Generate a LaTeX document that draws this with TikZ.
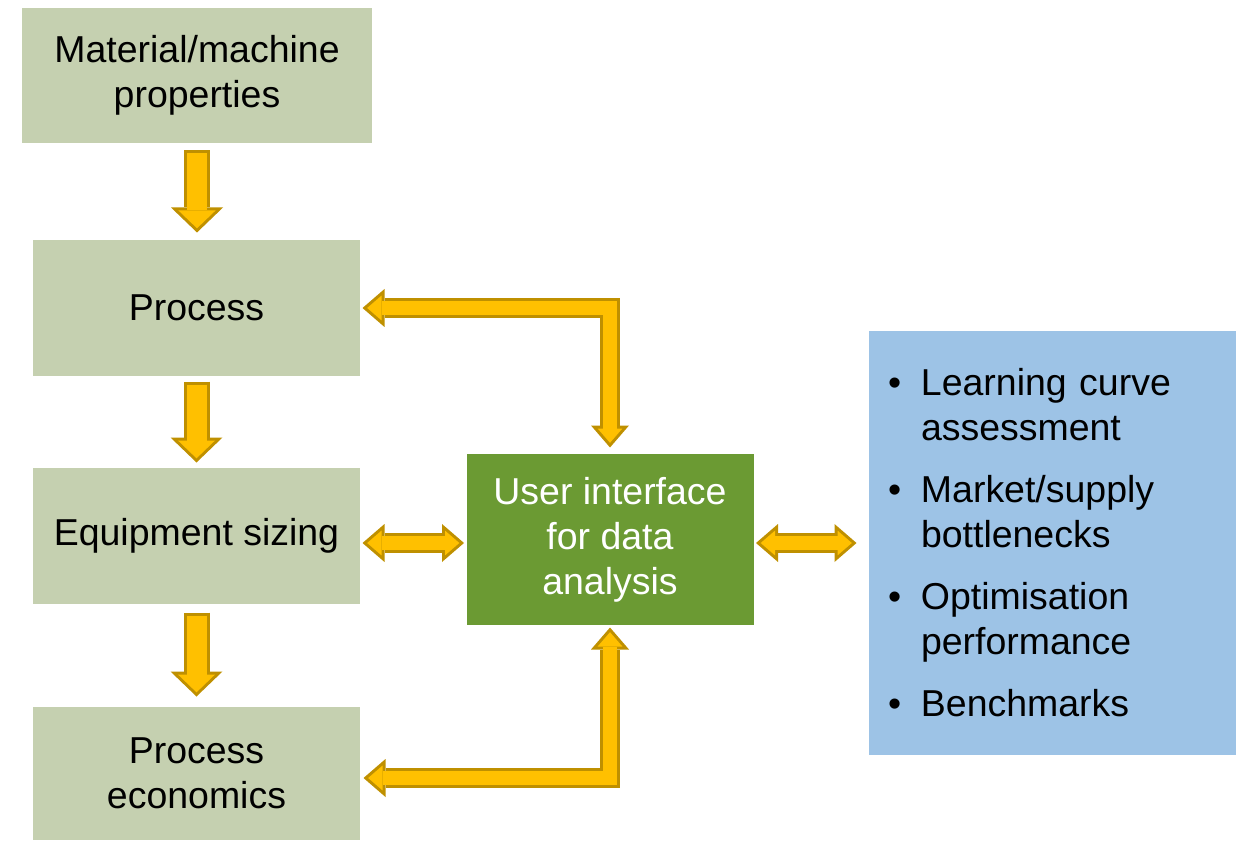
\documentclass[tikz,border=0pt]{standalone}
\usepackage{fontspec}
\setmainfont{Liberation Sans}
\usetikzlibrary{arrows.meta}

\definecolor{stagegreen}{RGB}{197,208,176}
\definecolor{uigreen}{RGB}{107,154,51}
\definecolor{resblue}{RGB}{157,195,230}
\definecolor{arrowfill}{RGB}{255,192,0}
\definecolor{arrowedge}{RGB}{191,144,0}

\tikzset{every picture/.style={line width=0.75pt}}
\tikzset{
  stage/.style={fill=stagegreen, inner sep=0pt, align=center, minimum width=245.25pt, minimum height=102pt, font=\fontsize{28.1}{33.75}\selectfont},
  uibox/.style={fill=uigreen, text=white, inner sep=0pt, align=center, minimum width=215.25pt, minimum height=128.25pt, font=\fontsize{28.1}{33.75}\selectfont},
  resbox/.style={fill=resblue, inner xsep=14.25pt, inner ysep=0pt, align=left, text width=246.75pt, minimum height=318pt, font=\fontsize{28.1}{33.75}\selectfont},
  % down arrows between the stages
  fatarrow/.style 2 args={draw=arrowedge, line width=19.5pt, shorten <=#1, shorten >=#2,
    -{Triangle[length=18.75pt,width=39pt,line width=0pt]},
    postaction={draw=arrowfill, line width=15pt, shorten <=#1+2.25pt, shorten >=#2+3.12pt,
      -{Triangle[length=13.38pt,width=27.83pt,line width=0pt]}}},
  % two-way links to the user interface
  linkarrow/.style 2 args={draw=arrowedge, line width=15pt, shorten <=#1, shorten >=#2,
    {Triangle[length=16.5pt,width=28.5pt,line width=0pt]}-{Triangle[length=16.5pt,width=28.5pt,line width=0pt]},
    postaction={draw=arrowfill, line width=10.5pt, shorten <=#1+3.5pt, shorten >=#2+3.5pt,
      {Triangle[length=10.75pt,width=18.6pt,line width=0pt]}-{Triangle[length=10.75pt,width=18.6pt,line width=0pt]}}},
}
\newcommand{\itembullet}{\makebox[24.75pt][l]{\textbullet}}
\newcommand{\itemgap}{\hspace*{24.75pt}}

\begin{document}
\begin{tikzpicture}[x=0.75pt,y=0.75pt,yscale=-1,xscale=1]
\useasboundingbox (0,0) rectangle (1238,841);

%Stages
\node (mat) [stage, minimum width=262.5pt, minimum height=101.25pt] at (197,75.5) {Material/machine\\properties};
\node (proc) [stage] at (196.5,308) {Process};
\node (equip) [stage] at (196.5,536) {Equipment sizing};
\node (econ) [stage, minimum height=99.75pt] at (196.5,773.5) {Process\\economics};

%User interface
\node (ui) [uibox] at (610,539.5) {User interface\\for data\\analysis};

%Results
\node (res) [resbox] at (1052.5,543) {\itembullet Learning curve\\\itemgap assessment\\[12.75pt]
\itembullet Market/supply\\\itemgap bottlenecks\\[12.75pt]
\itembullet Optimisation\\\itemgap performance\\[12.75pt]
\itembullet Benchmarks};

%Down arrows
\draw [fatarrow={5.25pt}{5.25pt}] (mat.south) -- (mat.south |- proc.north);
\draw [fatarrow={3.75pt}{3.75pt}] (proc.south) -- (equip.north);
\draw [fatarrow={6pt}{7.5pt}] (equip.south) -- (econ.north);

%Links
\draw [linkarrow={1.5pt}{4.5pt}] (proc.east) -| (ui.north);
\draw [linkarrow={2.25pt}{1.5pt}] (econ.east) ++(0,4.5) -| (ui.south);
\draw [linkarrow={1.5pt}{1.5pt}] (equip.east |- res.west) -- (ui.west |- res.west);
\draw [linkarrow={1.5pt}{9pt}] (ui.east |- res.west) -- (res.west);

\end{tikzpicture}
\end{document}
